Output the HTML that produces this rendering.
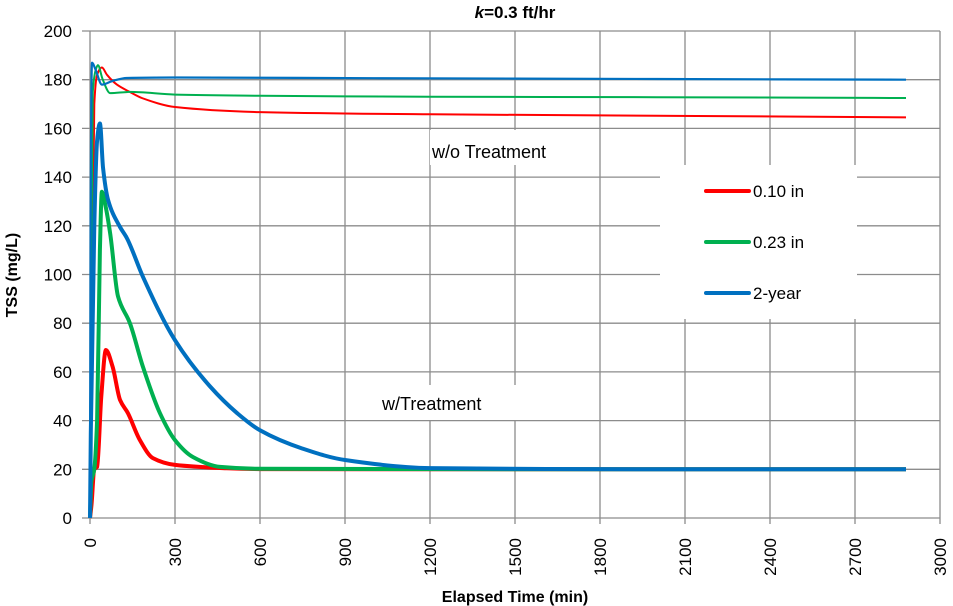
<!DOCTYPE html>
<html><head><meta charset="utf-8"><style>
body{margin:0;background:#fff;}
svg{display:block;font-family:"Liberation Sans",sans-serif;}
</style></head><body>
<svg id="chart" width="953" height="606" viewBox="0 0 953 606">
<text x="515" y="18" text-anchor="middle" font-size="17" font-weight="bold"><tspan font-style="italic">k</tspan>=0.3 ft/hr</text>
<g id="grid"></g>
<g id="ylabels"></g>
<g id="xlabels"></g>
<text transform="translate(17,275) rotate(-90)" text-anchor="middle" font-size="16" font-weight="bold">TSS (mg/L)</text>
<text x="515" y="602" text-anchor="middle" font-size="16" font-weight="bold">Elapsed Time (min)</text>
<rect x="430" y="130" width="165" height="35" fill="#fff"/>
<text x="432" y="158" font-size="18">w/o Treatment</text>
<rect x="380" y="385" width="180" height="35" fill="#fff"/>
<text x="382" y="410" font-size="18">w/Treatment</text>
<g id="series"></g>
<g>
<rect x="660" y="165" width="197" height="154" fill="#fff"/>
<line x1="706" y1="191" x2="749" y2="191" stroke="#ff0000" stroke-width="4" stroke-linecap="round"/>
<text x="753" y="197" font-size="17">0.10 in</text>
<line x1="706" y1="242" x2="749" y2="242" stroke="#00b050" stroke-width="4" stroke-linecap="round"/>
<text x="753" y="248" font-size="17">0.23 in</text>
<line x1="706" y1="293" x2="749" y2="293" stroke="#0070c0" stroke-width="4" stroke-linecap="round"/>
<text x="753" y="299" font-size="17">2-year</text>
</g>
</svg>
<script>
const xTicks=[0,300,600,900,1200,1500,1800,2100,2400,2700,3000];
const yTicks=[0,20,40,60,80,100,120,140,160,180,200];
// without treatment (thin)
const redWoT=[0,5,15,25,42,60,95,140,183,300,600,1200,2000,2880];
const redWoV=[0,60,170,182,185,182,178,175,172.5,168.8,166.7,165.8,165.2,164.5];
const greenWoT=[0,3,10,20,28,45,71,141,300,600,1200,2000,2880];
const greenWoV=[0,80,175,184,186,180,174.5,175,173.9,173.4,173,172.8,172.5];
const blueWoT=[0,2,7,20,42,80,130,300,1000,2000,2880];
const blueWoV=[0,120,187,184,178,179.5,180.7,180.9,180.6,180.3,180];
// with treatment (thick)
const redTT=[0,5,15,25,40,56,80,106,134,176,222,300,400,483,600,1500,2880];
const redTV=[0,5,20,21,50,69,62,48.5,43,32,24.6,21.8,20.9,20.4,20.1,20,20];
const greenTT=[0,5,15,25,35,42,55,71,99,141,187,247,300,364,459,600,1500,2880];
const greenTV=[0,15,20,40,110,134,128,117,91,80,62,43,32,25,21,20.2,20,20];
const blueTT=[0,3,15,25,35,46,64,106,130,187,300,424,520,600,750,900,1200,2000,2880];
const blueTV=[0,35,120,155,162,144,130.6,119.5,115,99,73,54,43,36,28.5,23.8,20.5,20,20];

const X0=90,X1=940,Y0=518,Y1=31;
const xs=t=>X0+t/3000*(X1-X0);
const ys=v=>Y0-v/200*(Y0-Y1);
const NS="http://www.w3.org/2000/svg";
const grid=document.getElementById('grid');
yTicks.forEach(v=>{
  const l=document.createElementNS(NS,'line');
  l.setAttribute('x1',82);l.setAttribute('x2',X1);
  l.setAttribute('y1',ys(v));l.setAttribute('y2',ys(v));
  l.setAttribute('stroke','#8c8c8c');l.setAttribute('stroke-width','1.3');
  
  
  grid.appendChild(l);
  const t=document.createElementNS(NS,'text');
  t.setAttribute('x',72);t.setAttribute('y',ys(v)+6);
  t.setAttribute('text-anchor','end');t.setAttribute('font-size','17');
  t.textContent=v;
  
  
  document.getElementById('ylabels').appendChild(t);
});
xTicks.forEach(v=>{
  const l=document.createElementNS(NS,'line');
  l.setAttribute('x1',xs(v));l.setAttribute('x2',xs(v));
  l.setAttribute('y1',Y1);l.setAttribute('y2',Y0+6);
  l.setAttribute('stroke','#8c8c8c');l.setAttribute('stroke-width','1.3');
  
  
  grid.appendChild(l);
  const t=document.createElementNS(NS,'text');
  t.setAttribute('transform','translate('+(xs(v)+6)+',538) rotate(-90)');
  t.setAttribute('text-anchor','end');t.setAttribute('font-size','17');
  t.textContent=v;
  
  
  document.getElementById('xlabels').appendChild(t);
});
// monotone cubic (Fritsch-Carlson) - no overshoot
function smoothPath(P){
  const n=P.length,dx=[],dy=[],m=[],s=[];
  for(let i=0;i<n-1;i++){dx[i]=P[i+1][0]-P[i][0];dy[i]=P[i+1][1]-P[i][1];s[i]=dy[i]/dx[i];}
  m[0]=s[0];m[n-1]=s[n-2];
  for(let i=1;i<n-1;i++){
    if(s[i-1]*s[i]<=0)m[i]=0;
    else{const w1=2*dx[i]+dx[i-1],w2=dx[i]+2*dx[i-1];m[i]=(w1+w2)/(w1/s[i-1]+w2/s[i]);}
  }
  let d='M'+P[0][0].toFixed(1)+','+P[0][1].toFixed(1);
  for(let i=0;i<n-1;i++){
    const h=dx[i]/3;
    d+=' C'+(P[i][0]+h).toFixed(1)+','+(P[i][1]+m[i]*h).toFixed(1)+' '+(P[i+1][0]-h).toFixed(1)+','+(P[i+1][1]-m[i+1]*h).toFixed(1)+' '+P[i+1][0].toFixed(1)+','+P[i+1][1].toFixed(1);
  }
  return d;
}
function line(T,V,color,w,name){
  const p=document.createElementNS(NS,'path');
  p.setAttribute('d',smoothPath(T.map((t,i)=>[xs(t),ys(V[i])])));
  p.setAttribute('fill','none');p.setAttribute('stroke',color);
  p.setAttribute('stroke-width',w);p.setAttribute('stroke-linejoin','round');
  
  
  document.getElementById('series').appendChild(p);
}
line(redWoT,redWoV,'#ff0000',2,'line-010-without-treatment');
line(greenWoT,greenWoV,'#00b050',2,'line-023-without-treatment');
line(blueWoT,blueWoV,'#0070c0',2.2,'line-2year-without-treatment');
line(redTT,redTV,'#ff0000',4,'line-010-with-treatment');
line(greenTT,greenTV,'#00b050',4,'line-023-with-treatment');
line(blueTT,blueTV,'#0070c0',4,'line-2year-with-treatment');
</script>
</body></html>
